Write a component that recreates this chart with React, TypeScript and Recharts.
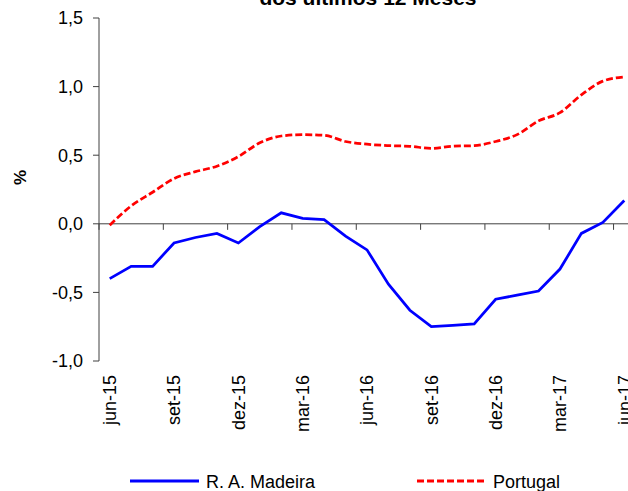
import React from "react";
import { LineChart, Line, XAxis, YAxis, ReferenceLine, Legend } from "recharts";

const MONTHS = [
  "jun-15", "jul-15", "ago-15", "set-15", "out-15", "nov-15", "dez-15",
  "jan-16", "fev-16", "mar-16", "abr-16", "mai-16", "jun-16", "jul-16",
  "ago-16", "set-16", "out-16", "nov-16", "dez-16", "jan-17", "fev-17",
  "mar-17", "abr-17", "mai-17", "jun-17",
];

// R. A. Madeira
const MADEIRA = [
  -0.4, -0.31, -0.31, -0.14, -0.1, -0.07, -0.14, -0.02, 0.08, 0.04, 0.03, -0.09,
  -0.19, -0.44, -0.63, -0.75, -0.74, -0.73, -0.55, -0.52, -0.49, -0.33, -0.07,
  0.01, 0.17,
];

// Portugal
const PORTUGAL = [
  -0.01, 0.13, 0.23, 0.33, 0.38, 0.42, 0.49, 0.59, 0.64, 0.65, 0.645, 0.6,
  0.58, 0.57, 0.565, 0.55, 0.565, 0.57, 0.6, 0.65, 0.75, 0.81, 0.94, 1.04, 1.07,
];

const Y_TICKS = [-1, -0.5, 0, 0.5, 1, 1.5];
const LABEL_EVERY = 3;

const FONT = "'Liberation Sans', Arial, sans-serif";
const AXIS = "#404040";
const BLUE = "#0000ff";
const RED = "#ff0000";

const data = MONTHS.map((m, i) => ({
  i,
  month: m,
  madeira: MADEIRA[i],
  portugal: PORTUGAL[i],
}));

const labelTicks = data.filter((d) => d.i % LABEL_EVERY === 0).map((d) => d.i);
// excel puts the tick marks between categories
const boundaryTicks = labelTicks.map((i) => i - 0.5);

const fmt = (v: number) => v.toFixed(1).replace(".", ",");

const MonthTick = (props: any) => {
  const { x, y, payload } = props;
  return (
    <text
      transform={`translate(${x},${y + 14}) rotate(-90)`}
      textAnchor="end"
      dy="0.35em"
      fontSize={18}
      fill="#000"
    >
      {MONTHS[payload.value]}
    </text>
  );
};

const LegendBox = () => (
  <svg width={628} height={30} style={{ display: "block" }}>
    <line x1={130} y1={20} x2={199} y2={20} stroke={BLUE} strokeWidth={3} />
    <text x={206} y={26.5} fontSize={18} fill="#000">R. A. Madeira</text>
    <line x1={417} y1={20} x2={486} y2={20} stroke={RED} strokeWidth={3} strokeDasharray="7 3" />
    <text x={493} y={26.5} fontSize={18} fill="#000">Portugal</text>
  </svg>
);

export default function App() {
  return (
    <div
      style={{
        position: "absolute",
        left: 0,
        top: 0,
        width: 628,
        height: 491,
        overflow: "hidden",
        background: "#fff",
        fontFamily: FONT,
      }}
    >
      <LineChart
        width={660}
        height={491}
        data={data}
        margin={{ top: 18, right: 25, bottom: 0, left: 0 }}
      >
        <text x={368} y={5} textAnchor="middle" fontSize={21} fontWeight="bold" fill="#000">
          dos últimos 12 Meses
        </text>
        <XAxis
          dataKey="i"
          type="number"
          domain={[-0.5, MONTHS.length - 0.5]}
          ticks={labelTicks}
          interval={0}
          height={100}
          axisLine={false}
          tickLine={false}
          tickSize={0}
          tickMargin={0}
          tick={<MonthTick />}
        />
        <YAxis
          type="number"
          domain={[-1, 1.5]}
          ticks={Y_TICKS}
          interval={0}
          width={99}
          tickSize={6}
          tickMargin={10}
          tickFormatter={fmt}
          tick={{ fontSize: 18, fill: "#000" }}
          axisLine={{ stroke: AXIS }}
          tickLine={{ stroke: AXIS }}
          label={{
            content: (p: any) => {
              const vb = p.viewBox;
              const cx = vb.x + 20;
              const cy = vb.y + vb.height / 2 - 12;
              return (
                <text
                  transform={`translate(${cx},${cy}) rotate(-90)`}
                  textAnchor="middle"
                  dy="0.35em"
                  fontSize={17}
                  fontWeight="bold"
                  fill="#000"
                >
                  %
                </text>
              );
            },
          }}
        />
        <ReferenceLine y={0} stroke={AXIS} strokeWidth={1} />
        {boundaryTicks.map((b) => (
          <ReferenceLine
            key={b}
            segment={[
              { x: b, y: 0 },
              { x: b, y: -0.044 },
            ]}
            stroke={AXIS}
            strokeWidth={1}
          />
        ))}
        <Line
          type="linear"
          dataKey="madeira"
          stroke={BLUE}
          strokeWidth={2.75}
          dot={false}
          isAnimationActive={false}
        />
        <Line
          type="monotone"
          dataKey="portugal"
          stroke={RED}
          strokeWidth={2.75}
          strokeDasharray="7 3"
          dot={false}
          isAnimationActive={false}
        />
        <Legend
          verticalAlign="bottom"
          height={30}
          content={() => <LegendBox />}
          wrapperStyle={{ left: 0, top: 461, width: 628, height: 30 }}
        />
      </LineChart>
    </div>
  );
}
